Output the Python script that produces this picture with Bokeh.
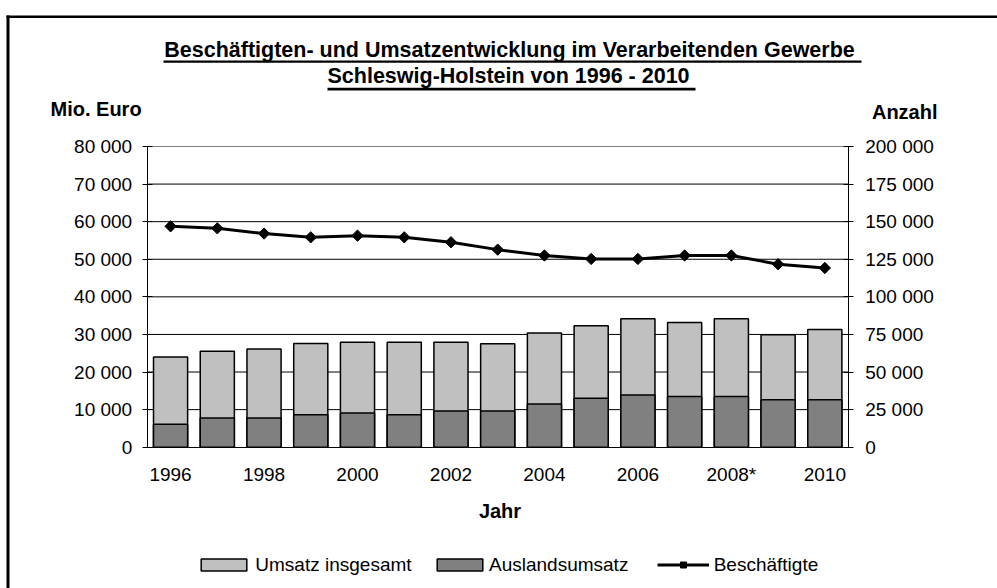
import numpy as np
from bokeh.plotting import figure
from bokeh.models import (Range1d, LinearAxis, FixedTicker, Label, BoxAnnotation,
                          Legend, LegendItem)
from bokeh.embed import file_html
from bokeh.resources import INLINE

# ---- data ----
years = [1996, 1997, 1998, 1999, 2000, 2001, 2002, 2003, 2004, 2005, 2006, 2007, 2008, 2009, 2010]
umsatz_insgesamt = [24000, 25500, 26100, 27600, 27900, 27900, 27900, 27500, 30400, 32300, 34200, 33200, 34200, 29900, 31300]
auslandsumsatz = [6100, 7800, 7800, 8600, 9100, 8600, 9600, 9600, 11500, 13000, 13900, 13500, 13500, 12600, 12600]
beschaeftigte = [146900, 145600, 142100, 139600, 140700, 139600, 136300, 131400, 127500, 125200, 125200, 127500, 127500, 121700, 119200]

left_ticks = [0, 10000, 20000, 30000, 40000, 50000, 60000, 70000, 80000]
left_tick_labels = ["0", "10 000", "20 000", "30 000", "40 000", "50 000", "60 000", "70 000", "80 000"]
right_ticks = [0, 25000, 50000, 75000, 100000, 125000, 150000, 175000, 200000]
right_tick_labels = ["0", "25 000", "50 000", "75 000", "100 000", "125 000", "150 000", "175 000", "200 000"]
x_ticks = [1996, 1998, 2000, 2002, 2004, 2006, 2008, 2010]
x_tick_labels = ["1996", "1998", "2000", "2002", "2004", "2006", "2008*", "2010"]

title_line1 = "Beschäftigten- und Umsatzentwicklung im Verarbeitenden Gewerbe "
title_line2 = "Schleswig-Holstein  von 1996 - 2010"
left_title = "Mio. Euro"
right_title = "Anzahl"
x_title = "Jahr"

FONT = "Liberation Sans"
LIGHT = "#C0C0C0"
DARK = "#808080"

# ---- layout (pixels) ----
W, H = 997, 588
PL, PR, PT, PB = 146.7, 847.7, 146.0, 446.7   # plot area inside the canvas
X0, X1 = years[0] - 0.5, years[-1] + 0.5
Y0, Y1 = left_ticks[0], left_ticks[-1]
R0, R1 = right_ticks[0], right_ticks[-1]

xs = (X1 - X0) / (PR - PL)
ys = (Y1 - Y0) / (PB - PT)
rs = (R1 - R0) / (PB - PT)

p = figure(width=W, height=H,
           x_range=Range1d(X0 - PL * xs, X1 + (W - PR) * xs),
           y_range=Range1d(Y0 - (H - PB) * ys, Y1 + PT * ys),
           output_backend="svg", toolbar_location=None, title=None,
           min_border_left=0, min_border_right=0, min_border_top=0, min_border_bottom=0)
p.extra_y_ranges = {"right": Range1d(R0 - (H - PB) * rs, R1 + PT * rs)}
p.background_fill_color = "white"
p.border_fill_color = "white"
p.outline_line_color = None
p.xgrid.visible = False
p.ygrid.visible = False

# horizontal grid lines across the plot area
p.segment(x0=X0, x1=X1, y0=left_ticks[1:-1], y1=left_ticks[1:-1],
          line_color="black", line_width=1, level="underlay")
p.segment(x0=X0, x1=X1, y0=left_ticks[-1:], y1=left_ticks[-1:],
          line_color="#808080", line_width=1, level="underlay")

def style_axis(ax):
    ax.axis_line_color = "black"
    ax.axis_line_width = 1
    ax.major_tick_line_color = "black"
    ax.major_tick_in = 5
    ax.major_tick_out = 5
    ax.minor_tick_line_color = None
    ax.major_label_text_font = FONT
    ax.major_label_text_font_size = "19px"
    ax.major_label_text_color = "black"

yl = p.yaxis[0]
style_axis(yl)
yl.fixed_location = X0
yl.bounds = (Y0, Y1)
yl.ticker = FixedTicker(ticks=left_ticks)
yl.major_label_overrides = dict(zip(left_ticks, left_tick_labels))
yl.major_label_standoff = 10

yr = LinearAxis(y_range_name="right", fixed_location=X1, bounds=(R0, R1))
style_axis(yr)
yr.ticker = FixedTicker(ticks=right_ticks)
yr.major_label_overrides = dict(zip(right_ticks, right_tick_labels))
yr.major_label_standoff = 12
p.add_layout(yr, "right")

xa = p.xaxis[0]
style_axis(xa)
xa.fixed_location = Y0
xa.bounds = (X0, X1)
xa.major_tick_line_color = None
xa.major_tick_in = 0
xa.major_tick_out = 0
xa.ticker = FixedTicker(ticks=x_ticks)
xa.major_label_overrides = dict(zip(x_ticks, x_tick_labels))
xa.major_label_standoff = 17

r_total = p.vbar(x=years, top=umsatz_insgesamt, width=0.73, fill_color=LIGHT,
                 line_color="black", line_width=1.5)
r_ausl = p.vbar(x=years, top=auslandsumsatz, width=0.73, fill_color=DARK,
                line_color="black", line_width=1.5)
r_line = p.line(years, beschaeftigte, y_range_name="right", line_width=3, line_color="black")
r_pts = p.scatter(years, beschaeftigte, y_range_name="right", marker="square",
                  angle=np.pi / 4, size=8, fill_color="black", line_color="black")

def add_legend(items, x, y, gw, gh, standoff):
    leg = Legend(items=items, location=(x, y), orientation="horizontal",
                 glyph_width=gw, glyph_height=gh, label_standoff=standoff,
                 label_text_font=FONT, label_text_font_size="19px",
                 label_text_color="black", padding=0, margin=0, spacing=0,
                 border_line_color=None, background_fill_alpha=0)
    p.add_layout(leg, "center")

LEG_Y = 12.5
add_legend([LegendItem(label="Umsatz insgesamt", renderers=[r_total])], 195.3, LEG_Y, 57, 15, 3)
add_legend([LegendItem(label="Auslandsumsatz", renderers=[r_ausl])], 431, LEG_Y, 57, 15, 1)
add_legend([LegendItem(label="Beschäftigte", renderers=[r_line, r_pts])], 656.7, LEG_Y, 52, 15, 5)

TEXT_SHIFT = 8  # compensation for where the renderer puts the baseline

def add_text(txt, x, y_top, size, bold, align):
    # x, y_top in canvas pixels measured from the top-left corner (baseline position)
    p.add_layout(Label(x=x, y=H - y_top + TEXT_SHIFT, x_units="screen", y_units="screen", text=txt,
                       text_font=FONT, text_font_size=size,
                       text_font_style="bold" if bold else "normal",
                       text_align=align, text_baseline="alphabetic", text_color="black"))

add_text(title_line1, 512, 57.5, "21.5px", True, "center")
add_text(title_line2, 511, 83.5, "21.5px", True, "center")
add_text(left_title, 50, 116.5, "20px", True, "left")
add_text(right_title, 937, 119, "20px", True, "right")
add_text(x_title, 499.5, 518, "20px", True, "center")

def add_box(l, r, t, b):
    # canvas pixels from the top-left corner
    p.add_layout(BoxAnnotation(left=l, right=r, bottom=H - b, top=H - t,
                               left_units="screen", right_units="screen",
                               bottom_units="screen", top_units="screen",
                               fill_color="black", fill_alpha=1, line_color=None))

# title underlines
add_box(163, 861, 60.0, 62.3)
add_box(327, 695, 87.3, 90.0)
# chart frame (left and top edges, the rest lies outside the picture)
add_box(6, 9, 15, H + 5)
add_box(6, W + 5, 15, 17.5)

open("out.html", "w").write(file_html(p, INLINE))
